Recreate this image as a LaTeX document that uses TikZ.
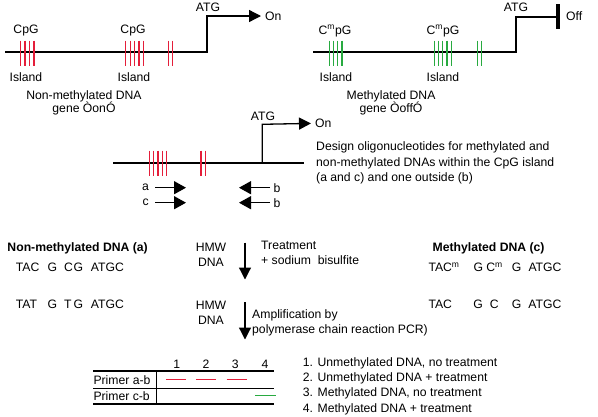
\documentclass[tikz,border=0pt]{standalone}
\usepackage{fontspec}
\setmainfont{Liberation Sans}
\usetikzlibrary{arrows.meta}
\definecolor{cpgred}{RGB}{228,30,58}
\definecolor{cpggreen}{RGB}{40,170,64}

\begin{document}
\begin{tikzpicture}[x=1pt, y=-1pt, inner sep=0pt,
    font=\fontsize{12.2}{15}\selectfont,
    gene/.style={line width=1.3pt, line join=miter},
    tick/.style={line width=1.2pt},
    tip/.style={-{Triangle[length=12pt,width=12pt]}},
    primer/.style={line width=1.4pt, -{Triangle[length=12pt,width=13pt]}},
    lane/.style={line width=1.2pt}]
  \useasboundingbox (0,0) rectangle (598,416);

  % non-methylated gene, on
  \coordinate (nmStart) at (5,52);
  \coordinate (nmTss) at (207,52);
  \coordinate (nmUp) at (207,16);
  \node[anchor=west] (nmOn) at (265,16) {On};
  \draw[gene, tip, shorten >=4pt] (nmStart) -- (nmTss) -- (nmUp) -- (nmOn.west);
  \foreach \x in {20.7,25,29.5,34,125.7,130.1,134.5,139,143.3,168.3,172.3}
    \draw[tick, cpgred] (\x,40.7) -- (\x,65.7);
  \node (nmAtg) at (208,7) {ATG};
  \node (nmCpgA) at (26,31) {CpG};
  \node (nmCpgB) at (133,31) {CpG};
  \node (nmIslA) at (26,77) {Island};
  \node (nmIslB) at (134,77) {Island};
  \node[align=center, font=\fontsize{12.2}{13.5}\selectfont] (nmName) at (84,103) {Non-methylated DNA\\gene ÒonÓ};

  % methylated gene, off
  \coordinate (mStart) at (313,52);
  \coordinate (mTss) at (516,52);
  \coordinate (mUp) at (516,17);
  \coordinate (mStop) at (558,17);
  \node[anchor=west] (mOff) at (566,16) {Off};
  \draw[gene] (mStart) -- (mTss) -- (mUp) -- (mStop);
  \draw[line width=3.6pt] (558,4) -- (558,29);
  \foreach \x in {329.3,333.5,337.7,342,434.3,438.6,442.8,447,451.3,477.3,481.3}
    \draw[tick, cpggreen] (\x,40.7) -- (\x,65.7);
  \node (mAtg) at (516,7) {ATG};
  \node (mCpgA) at (335,31) {C\textsuperscript{m}pG};
  \node (mCpgB) at (443,31) {C\textsuperscript{m}pG};
  \node (mIslA) at (336,77) {Island};
  \node (mIslB) at (443,77) {Island};
  \node[align=center, font=\fontsize{12.2}{13.5}\selectfont] (mName) at (391,103) {Methylated DNA\\gene ÒoffÓ};

  % primer design
  \coordinate (pdStart) at (113,163);
  \coordinate (pdEnd) at (304,163);
  \coordinate (pdTss) at (262.3,163);
  \coordinate (pdUp) at (262.3,124.3);
  \node[anchor=west] (pdOn) at (315,123.3) {On};
  \draw[gene] (pdStart) -- (pdEnd);
  \draw[gene, tip, shorten >=4pt] (pdTss) -- (pdUp) -- (pdOn.west);
  \foreach \x in {149.3,153.6,158,162.3,166.7,201,205.3}
    \draw[tick, cpgred] (\x,150.7) -- (\x,175.7);
  \node (pdAtg) at (263,116) {ATG};
  \node[anchor=west, align=left, font=\fontsize{12.2}{15.6}\selectfont] (design) at (316,163)
    {Design oligonucleotides for methylated and\\non-methylated DNAs within the CpG island\\(a and c) and one outside (b)};

  \node[anchor=east] (pa) at (149,187.7) {a};
  \node[anchor=east] (pc) at (149,202.7) {c};
  \node[anchor=west] (pb1) at (273.5,187.7) {b};
  \node[anchor=west] (pb2) at (273.5,202.7) {b};
  \coordinate (paTip) at (186,187.7);
  \coordinate (pcTip) at (186,202.7);
  \coordinate (pb1Tip) at (239,187.7);
  \coordinate (pb2Tip) at (239,202.7);
  \draw[primer, shorten <=6pt] (pa.east) -- (paTip);
  \draw[primer, shorten <=6pt] (pc.east) -- (pcTip);
  \draw[primer, shorten <=3.5pt] (pb1.west) -- (pb1Tip);
  \draw[primer, shorten <=3.5pt] (pb2.west) -- (pb2Tip);

  % bisulfite treatment
  \node[anchor=west, font=\fontsize{12.2}{15}\bfseries] (nmHead) at (7.3,248.3) {Non-methylated DNA (a)};
  \node[anchor=west] (mHead) at (432.5,248.3) {\bfseries Methylated DNA (c)};
  \node[anchor=west] (nmSeq1) at (15.7,267)
    {\makebox[31.7pt][l]{TAC}\makebox[16.6pt][l]{G}\makebox[9.4pt][l]{C}\makebox[17.3pt][l]{G}ATGC};
  \node[anchor=west] (nmSeq2) at (15.7,304)
    {\makebox[31.7pt][l]{TAT}\makebox[16.6pt][l]{G}\makebox[9.4pt][l]{T}\makebox[17.3pt][l]{G}ATGC};
  \node[anchor=west] (mSeq1) at (428.3,267)
    {\makebox[45pt][l]{TAC\textsuperscript{m}}\makebox[38.3pt][l]{G C\textsuperscript{m}}\makebox[16.7pt][l]{G}ATGC};
  \node[anchor=west] (mSeq2) at (428.3,304)
    {\makebox[45pt][l]{TAC}\makebox[38.3pt][l]{G\ \ C}\makebox[16.7pt][l]{G}ATGC};

  \node[align=center] (hmwA) at (211,254.5) {HMW\\DNA};
  \node[align=center] (hmwB) at (211,313) {HMW\\DNA};
  \coordinate (stepAtop) at (245,242.5);
  \coordinate (stepAbot) at (245,279.5);
  \coordinate (stepBtop) at (245,302);
  \coordinate (stepBbot) at (245,339.5);
  \draw[line width=1.2pt, tip] (stepAtop) -- (stepAbot);
  \draw[line width=1.2pt, tip] (stepBtop) -- (stepBbot);
  \node[anchor=west, align=left] (treat) at (261,252.5) {Treatment\\+ sodium\ \ bisulfite};
  \node[anchor=west, align=left, font=\fontsize{12.2}{14.5}\selectfont] (amplify) at (252,323)
    {Amplification by\\polymerase chain reaction PCR)};

  % PCR result
  \coordinate (tabNW) at (93.3,371);
  \coordinate (tabNE) at (274.3,371);
  \coordinate (tabW) at (93.3,388.3);
  \coordinate (tabE) at (274.3,388.3);
  \coordinate (tabSW) at (93.3,404);
  \coordinate (tabSE) at (274.3,404);
  \draw[lane] (tabNW) -- (tabNE);
  \draw[lane] (tabW) -- (tabE);
  \draw[lane] (tabSW) -- (tabSE);
  \draw[lane] (156.7,371) -- (156.7,404);
  \foreach \x [count=\i] in {176.7,206,235.3,265}
    \node (lane\i) at (\x,364.5) {\i};
  \node[anchor=west] (rowAB) at (93.3,380.5) {Primer a-b};
  \node[anchor=west] (rowCB) at (93.3,396.5) {Primer c-b};
  \foreach \x in {166,196,226.7}
    \draw[cpgred, line width=1.2pt] (\x,379.3) -- ++(20.3,0);
  \draw[cpggreen, line width=1.2pt] (255,395.7) -- (275.7,395.7);
  \node[anchor=west, align=left, font=\fontsize{12.2}{15.4}\selectfont] (legend) at (302.7,386)
    {1. Unmethylated DNA, no treatment\\2. Unmethylated DNA + treatment\\3. Methylated DNA, no treatment\\4. Methylated DNA + treatment};
\end{tikzpicture}
\end{document}
